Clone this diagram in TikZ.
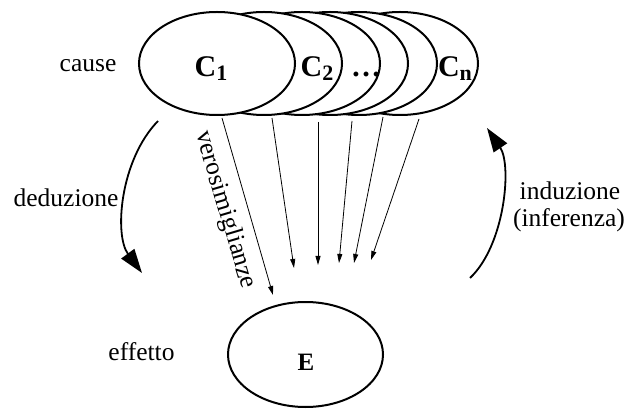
\documentclass[tikz,border=0pt]{standalone}
\usepackage{fontspec}
\setmainfont{Liberation Serif}
\usetikzlibrary{arrows.meta,shapes.geometric}

\tikzset{
  causa/.style={ellipse, draw, line width=2pt, fill=white,
    minimum width=156pt, minimum height=103pt, inner sep=0pt},
  nome/.style={font=\fontsize{30}{30}\selectfont\bfseries, anchor=base, inner sep=0pt},
  testo/.style={font=\fontsize{25.5}{30}\selectfont, anchor=base, inner sep=0pt},
  likely/.style={-{Triangle[length=9pt,width=5pt]}, line width=0.8pt},
  reason/.style={-{Triangle[length=24pt,width=16pt]}, line width=1.8pt},
}
\newcommand{\idx}[1]{\raisebox{-4pt}{\fontsize{22}{22}\selectfont #1}}

\begin{document}
\begin{tikzpicture}[x=1pt, y=-1pt]
  \useasboundingbox (0,0) rectangle (628,411);

  % stack of causes, drawn from the back to the front
  \node[causa] (cn) at (400,63.5) {};
  \node[causa] (c5) at (359,63.5) {};
  \node[causa] (c4) at (330,63.5) {};
  \node[causa] (c3) at (302,63.5) {};
  \node[causa] (c2) at (264,63.5) {};
  \node[causa] (c1) at (217,63.5) {};

  \node[nome] (t1) at (211,77) {C\idx{1}};
  \node[nome] (t2) at (317,77) {C\idx{2}};
  \node[nome] (t3) at (366,77) {…};
  \node[nome] (tn) at (455,77) {C\idx{n}};

  % effect
  \node[causa, minimum width=155pt, minimum height=105pt] (e) at (305.5,354.5) {};
  \node[nome, font=\fontsize{25}{25}\selectfont\bfseries] (te) at (306,370) {E};

  % side labels
  \node[testo] (lc) at (88,72) {cause};
  \node[testo] (le) at (141.5,360) {effetto};
  \node[testo] (ld) at (66,207) {deduzione};
  \node[testo] (li) at (570,200) {induzione};
  \node[testo] (lf) at (569,227) {(inferenza)};

  % likelihood arrows
  \coordinate (s1) at (222,118);  \coordinate (e1) at (273,295);
  \coordinate (s2) at (272,118);  \coordinate (e2) at (294,268);
  \coordinate (s3) at (318,122);  \coordinate (e3) at (318,265);
  \coordinate (s4) at (352,121);  \coordinate (e4) at (339,263);
  \coordinate (s5) at (383,117);  \coordinate (e5) at (354,263);
  \coordinate (s6) at (419,119);  \coordinate (e6) at (371,260);
  \foreach \i in {1,...,6} { \draw[likely] (s\i) -- (e\i); }
  \node[testo, anchor=center, rotate=-73.5] (lv) at (225,210) {verosimiglianze};

  % deduction and induction
  \coordinate (d0) at (158,121);  \coordinate (d1) at (142,273);
  \draw[reason] (d0) .. controls (120,160) and (114,235) .. (d1);
  \coordinate (i0) at (470,278);  \coordinate (i1) at (487,128);
  \draw[reason] (i0) .. controls (505,245) and (512,165) .. (i1);
\end{tikzpicture}
\end{document}
